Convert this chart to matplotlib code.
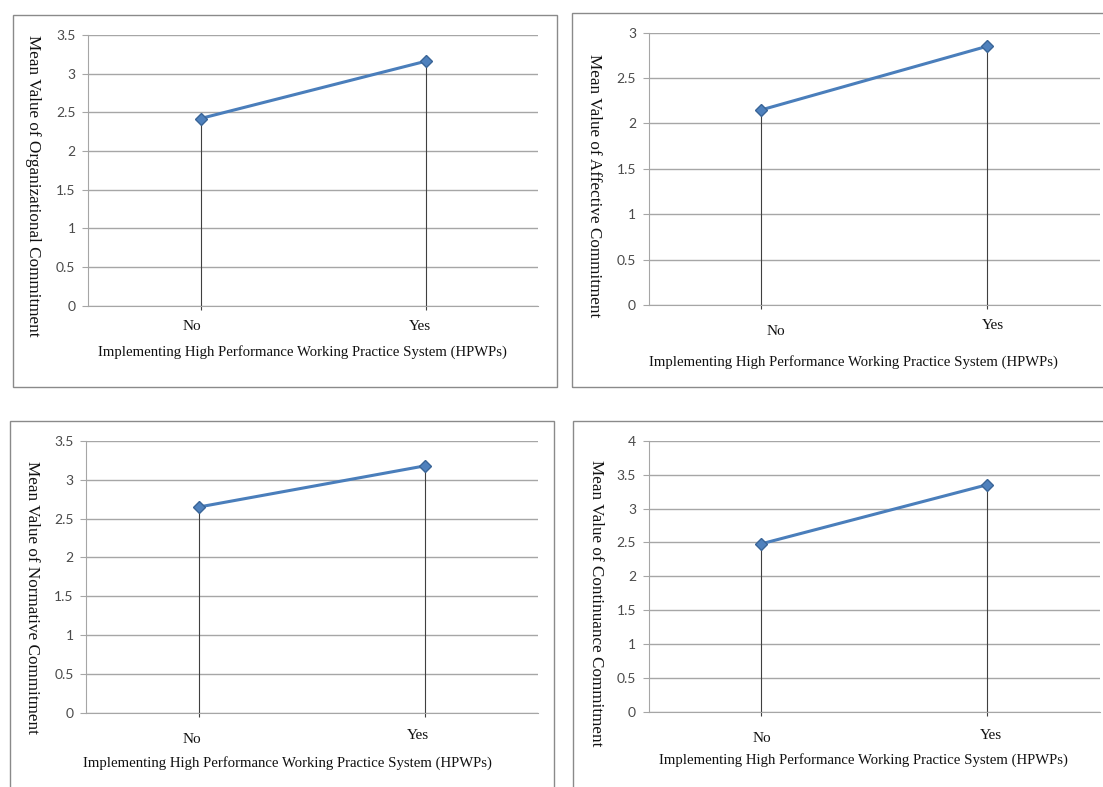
import matplotlib.pyplot as plt
from matplotlib.patches import Rectangle
import matplotlib.transforms as mtransforms

categories = ['No', 'Yes']
x_title = 'Implementing High Performance Working Practice System (HPWPs)'

organizational = [2.42, 3.16]
affective = [2.15, 2.85]
normative = [2.65, 3.18]
continuance = [2.48, 3.35]

y_titles = ['Mean Value of Organizational Commitment',
            'Mean Value of Affective Commitment',
            'Mean Value of Normative Commitment',
            'Mean Value of Continuance Commitment']
y_max = [3.5, 3, 3.5, 4]

W, H = 1103, 787
fig = plt.figure(figsize=(W / 100, H / 100), dpi=100)

def px_axes(x0, y0, x1, y1):
    # pixel box (top-left origin) -> figure fraction
    return [x0 / W, 1 - y1 / H, (x1 - x0) / W, (y1 - y0) / H]

# panel frames
frames = [(12.6, 15, 557, 387), (571.7, 12.7, 1110, 387),
          (9.8, 420.7, 554, 800), (572.8, 420.7, 1110, 800)]
for x0, y0, x1, y1 in frames:
    fig.patches.append(Rectangle((x0 / W, 1 - y1 / H), (x1 - x0) / W, (y1 - y0) / H,
                                 transform=fig.transFigure, fill=False,
                                 edgecolor='#8a8a8a', lw=1.0))

boxes = [(88, 35, 538, 305.7), (648.6, 32.7, 1099.8, 305),
         (86, 441, 538, 712.7), (648.6, 440.7, 1099.8, 712)]
# label placement (axes coords): ylabel, xlabel, No, Yes
ylab_pos = [(-0.122, 0.442), (-0.121, 0.437), (-0.120, 0.426), (-0.1175, 0.402)]
xlab_pos = [(0.476, -0.171), (0.455, -0.209), (0.445, -0.185), (0.477, -0.177)]
cat_off = [[(-0.02, -0.075), (-0.013, -0.075)],
           [(0.031, -0.0955), (0.013, -0.077)],
           [(-0.015, -0.097), (-0.015, -0.083)],
           [(0.0, -0.096), (0.009, -0.088)]]

series = [organizational, affective, normative, continuance]
serif = 'Liberation Serif'
sans = 'Lato'

for i, vals in enumerate(series):
    ax = fig.add_axes(px_axes(*boxes[i]))
    xs = list(range(len(categories)))
    ax.set_xlim(-0.5, len(categories) - 0.5)
    ax.set_ylim(0, y_max[i])
    ax.set_yticks([v * 0.5 for v in range(int(y_max[i] / 0.5) + 1)])
    ax.set_yticklabels([('%g' % t) for t in ax.get_yticks()],
                       fontfamily=sans, fontsize=10, color='#4a4a4a')
    ax.grid(axis='y', color='#a6a6a6', lw=1.0)
    ax.set_axisbelow(True)
    ax.tick_params(axis='y', length=4, color='#a6a6a6', pad=5)
    ax.set_xticks([])
    for s in ['top', 'right']:
        ax.spines[s].set_visible(False)
    for s in ['left', 'bottom']:
        ax.spines[s].set_color('#a6a6a6')
    ax.vlines(xs, -0.015 * y_max[i], vals, color='#404040', lw=0.8, clip_on=False)
    ax.plot(xs, vals, color='#4a7ebb', lw=2.2, marker='D', ms=6.5,
            markerfacecolor='#4f81bd', markeredgecolor='#3a6597', zorder=5)

    trans = mtransforms.blended_transform_factory(ax.transData, ax.transAxes)
    for j, cat in enumerate(categories):
        dx, dy = cat_off[i][j]
        ax.text(xs[j] + dx * 2, dy, cat, transform=trans, ha='center', va='center',
                fontfamily=serif, fontsize=11, color='#111111')
    ax.text(xlab_pos[i][0], xlab_pos[i][1], x_title, transform=ax.transAxes,
            ha='center', va='center', fontfamily=serif, fontsize=10.6, color='#111111')
    ax.text(ylab_pos[i][0], ylab_pos[i][1], y_titles[i], transform=ax.transAxes,
            ha='center', va='center', rotation=-90, fontfamily=serif,
            fontsize=12.3, color='#111111')

fig.savefig('out.png', dpi=100)
